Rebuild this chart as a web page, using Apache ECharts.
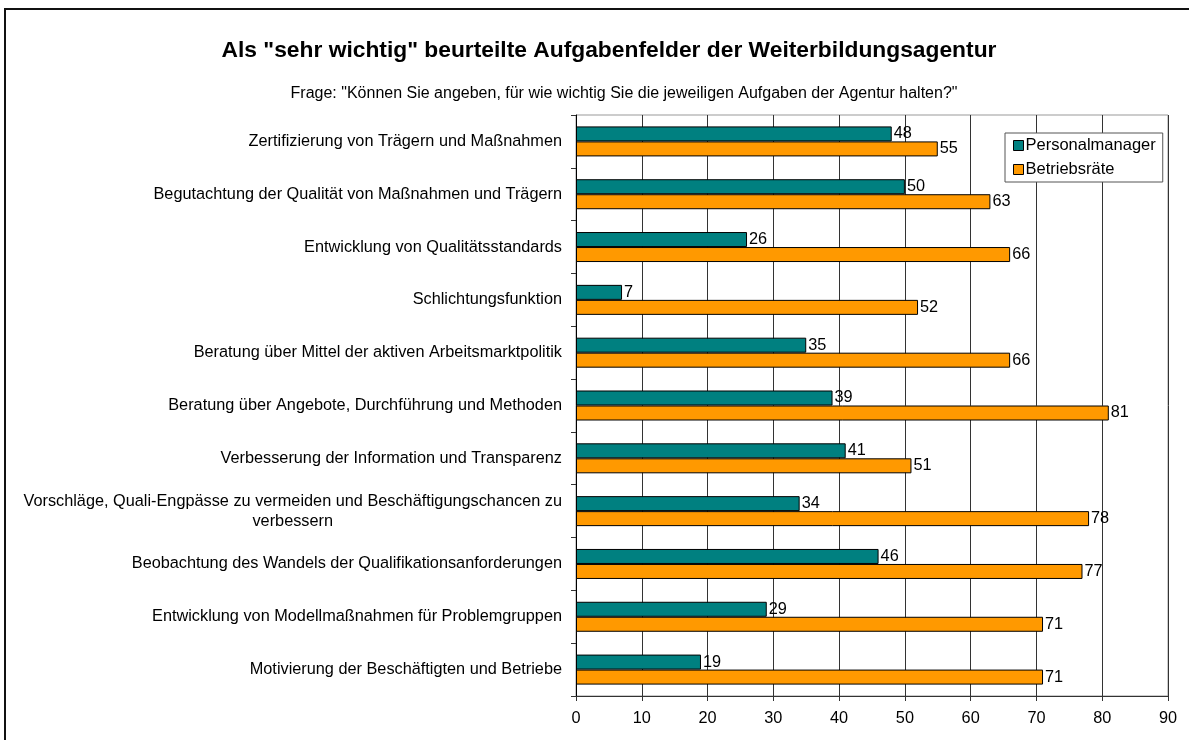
<!DOCTYPE html>
<html>
<head>
<meta charset="utf-8">
<script src="https://cdn.jsdelivr.net/npm/echarts@6/dist/echarts.min.js"></script>
<style>
  html, body { margin: 0; padding: 0; background: #fff; }
  #chart { width: 1189px; height: 740px; }
</style>
</head>
<body>
<div id="chart"></div>
<script>
// Task areas (top to bottom)
const categories = [
  'Zertifizierung von Trägern und Maßnahmen',
  'Begutachtung der Qualität von Maßnahmen und Trägern',
  'Entwicklung von Qualitätsstandards',
  'Schlichtungsfunktion',
  'Beratung über Mittel der aktiven Arbeitsmarktpolitik',
  'Beratung über Angebote, Durchführung und Methoden',
  'Verbesserung der Information und Transparenz',
  'Vorschläge, Quali-Engpässe zu vermeiden und Beschäftigungschancen zu\nverbessern',
  'Beobachtung des Wandels der Qualifikationsanforderungen',
  'Entwicklung von Modellmaßnahmen für Problemgruppen',
  'Motivierung der Beschäftigten und Betriebe'
];
// Share rating each task "sehr wichtig" (%)
const personalmanager = [48, 50, 26, 7, 35, 39, 41, 34, 46, 29, 19];
const betriebsraete = [55, 63, 66, 52, 66, 81, 51, 78, 77, 71, 71];
const seriesNames = ['Personalmanager', 'Betriebsräte'];
const xTicks = [0, 10, 20, 30, 40, 50, 60, 70, 80, 90];

const FONT = '"Liberation Sans", Arial, sans-serif';
const FS = 16.3;
const chart = echarts.init(document.getElementById('chart'), null, { renderer: 'canvas' });

const barLabel = {
  show: true,
  position: 'right',
  distance: 2,
  color: '#000',
  fontFamily: FONT,
  fontSize: FS
};

chart.setOption({
  backgroundColor: '#fff',
  animation: false,
  title: [
    {
      text: 'Als "sehr wichtig" beurteilte Aufgabenfelder der Weiterbildungsagentur',
      left: 604, top: 34, textAlign: 'center',
      textStyle: { fontFamily: FONT, fontSize: 22.8, fontWeight: 'bold', color: '#000' }
    },
    {
      text: 'Frage: "Können Sie angeben, für wie wichtig Sie die jeweiligen Aufgaben der Agentur halten?"',
      left: 619, top: 81, textAlign: 'center',
      textStyle: { fontFamily: FONT, fontSize: 16, fontWeight: 'normal', color: '#000' }
    }
  ],
  legend: {
    data: seriesNames,
    orient: 'vertical',
    left: 1005, top: 133,
    padding: [4, 7, 4, 8],
    itemGap: 7,
    icon: 'rect',
    itemWidth: 10, itemHeight: 10,
    itemStyle: { borderColor: '#000', borderWidth: 1 },
    backgroundColor: '#fff',
    borderColor: '#555',
    borderWidth: 1,
    textStyle: { fontFamily: FONT, fontSize: 16.5, color: '#000', padding: [0, 0, 0, -3] }
  },
  graphic: [
    {
      type: 'rect',
      shape: { x: 5, y: 9, width: 1200, height: 760 },
      style: { fill: null, stroke: '#111', lineWidth: 2 },
      silent: true, z: 100
    }
  ],
  grid: {
    left: 576, right: 21, top: 115, bottom: 44,
    show: true, borderColor: '#999', borderWidth: 1, backgroundColor: 'transparent'
  },
  xAxis: {
    type: 'value',
    min: xTicks[0], max: xTicks[xTicks.length - 1], interval: 10,
    axisLine: { show: true, lineStyle: { color: '#333', width: 1 } },
    axisTick: { show: true, length: 5, lineStyle: { color: '#333' } },
    axisLabel: { fontFamily: FONT, fontSize: FS, color: '#000', margin: 15 },
    splitLine: { show: true, lineStyle: { color: '#333', width: 1 } }
  },
  yAxis: {
    type: 'category',
    data: categories,
    inverse: true,
    axisLine: { show: true, lineStyle: { color: '#000', width: 1 } },
    axisTick: { show: true, length: 5, lineStyle: { color: '#333' } },
    axisLabel: {
      fontFamily: FONT, fontSize: FS, color: '#000', margin: 14, lineHeight: 20,
      formatter: function (v) {
        return v.split('\n').map(function (s) { return '{c|' + s + '}'; }).join('\n');
      },
      rich: { c: { align: 'center', fontFamily: FONT, fontSize: FS, color: '#000', lineHeight: 20 } }
    },
    splitLine: { show: false }
  },
  series: [
    {
      name: seriesNames[0], type: 'bar', data: personalmanager,
      barWidth: 15, barGap: '0%',
      itemStyle: { color: '#008080', borderColor: '#000', borderWidth: 1 },
      label: barLabel
    },
    {
      name: seriesNames[1], type: 'bar', data: betriebsraete,
      barWidth: 15, barGap: '0%',
      itemStyle: { color: '#FF9900', borderColor: '#000', borderWidth: 1 },
      label: barLabel
    }
  ]
});
</script>
</body>
</html>
